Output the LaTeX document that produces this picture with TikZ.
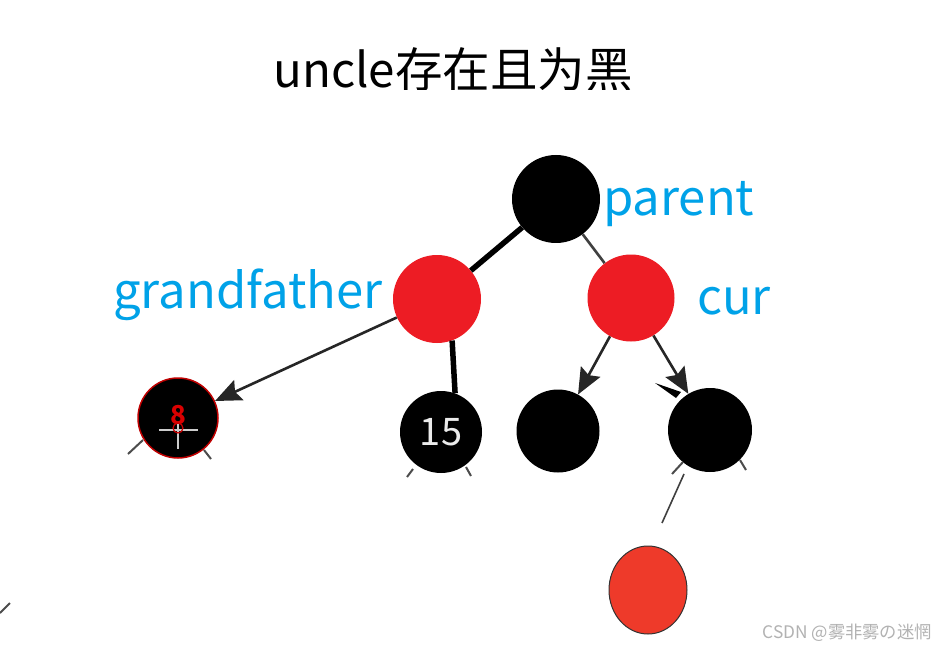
\documentclass[tikz,border=0pt]{standalone}
\usepackage{fontspec}
\setmainfont{Noto Sans CJK SC}
\usetikzlibrary{arrows.meta,shapes.geometric}
\definecolor{nred}{HTML}{ED1C24}
\definecolor{lblue}{HTML}{00A2E8}
\definecolor{ered}{HTML}{EE3A2A}
\tikzset{
  bnode/.style={circle,fill=black,inner sep=0pt,minimum size=#1},
  rnode/.style={circle,fill=nred,inner sep=0pt,minimum size=#1},
  lbl/.style={text=lblue,font=\fontsize{49}{49}\selectfont,inner sep=0pt},
  thick edge/.style={line width=5.5pt,black},
  thin edge/.style={line width=2.6pt,black!85},
  arr/.style={thin edge,-{Stealth[length=26pt,width=22pt,inset=4pt]}},
  stub/.style={line width=2pt,black!70},
}
\begin{document}
\begin{tikzpicture}[x=1pt,y=-1pt]
\useasboundingbox (0,0) rectangle (937,647);
\fill[white] (0,0) rectangle (937,647);
% title (bottom cut off as in the reference)
\begin{scope}
\clip (0,0) rectangle (937,90);
\node[font=\fontsize{47.5}{47.5}\selectfont,inner sep=0pt,anchor=base] (title) at (453,88) {uncle存在且为黑};
\end{scope}
% nodes
\node[bnode=88pt] (P) at (556,199) {};
\node[rnode=88pt] (G) at (437,299) {};
\node[rnode=87pt] (C) at (631,298) {};
\node[bnode=80pt,draw=red!75!black,line width=1.5pt] (E) at (178,418) {};
\node[bnode=82pt,text=white!92!black,font=\fontsize{38}{38}\selectfont] (F) at (441,432) {15};
\node[bnode=83pt] (L) at (558,431) {};
\node[bnode=84pt] (R) at (710,430) {};
\node[ellipse,fill=ered,draw=black!80,line width=1pt,minimum width=78pt,minimum height=88pt,inner sep=0pt] (B) at (648,590) {};
% glyph inside the 8 node
\node[text=red!85!black,font=\bfseries\fontsize{26}{26}\selectfont,inner sep=0pt] (eight) at (178,415) {8};
\draw[white!80!black,line width=2.5pt] (159,430) -- (198,430);
\draw[white!80!black,line width=2.5pt] (178,423) -- (178,449);
\draw[red!80!black,line width=1.2pt] (178,428) circle (5pt);
% labels
\node[lbl,anchor=base west] (parent) at (603,216) {parent};
\node[lbl,anchor=base west] (gf) at (113,308) {grandfather};
\node[lbl,anchor=base west] (cur) at (697,314) {cur};
% edges
\draw[thick edge] (P) -- (G);
\draw[thin edge,black!75] (P) -- (C);
\draw[arr] (G) -- (E);
\draw[thick edge] (G.-70) -- (F.70);
\draw[arr] (C) -- (L);
\draw[arr] (C) -- (R);
% stray arrowhead fragment near right child
\fill[black] (655,383) -- (681,392) -- (676,398) -- cycle;
% stubs below nodes
\coordinate (s1a) at (128,454); \coordinate (s1b) at (143,440);
\draw[stub] (s1a) -- (s1b);
\coordinate (s2a) at (204,450); \coordinate (s2b) at (211,459);
\draw[stub] (s2a) -- (s2b);
\coordinate (s3a) at (413,469); \coordinate (s3b) at (407,477);
\draw[stub] (s3a) -- (s3b);
\coordinate (s4a) at (466,467); \coordinate (s4b) at (471,476);
\draw[stub] (s4a) -- (s4b);
\coordinate (s5a) at (683,462); \coordinate (s5b) at (672,474);
\draw[stub] (s5a) -- (s5b);
\coordinate (s6a) at (740,460); \coordinate (s6b) at (746,470);
\draw[stub] (s6a) -- (s6b);
\coordinate (s7a) at (0,613); \coordinate (s7b) at (10,603);
\draw[stub] (s7a) -- (s7b);
% line from right child towards bottom node
\coordinate (d1) at (684,474); \coordinate (d2) at (662,523);
\draw[line width=1.6pt,black!75] (d1) -- (d2);
% watermark
\node[text=black!30,font=\fontsize{17.3}{17.3}\selectfont,anchor=base east,inner sep=0pt] (wm) at (932,638) {CSDN @雾非雾の迷惘};
\end{tikzpicture}
\end{document}
